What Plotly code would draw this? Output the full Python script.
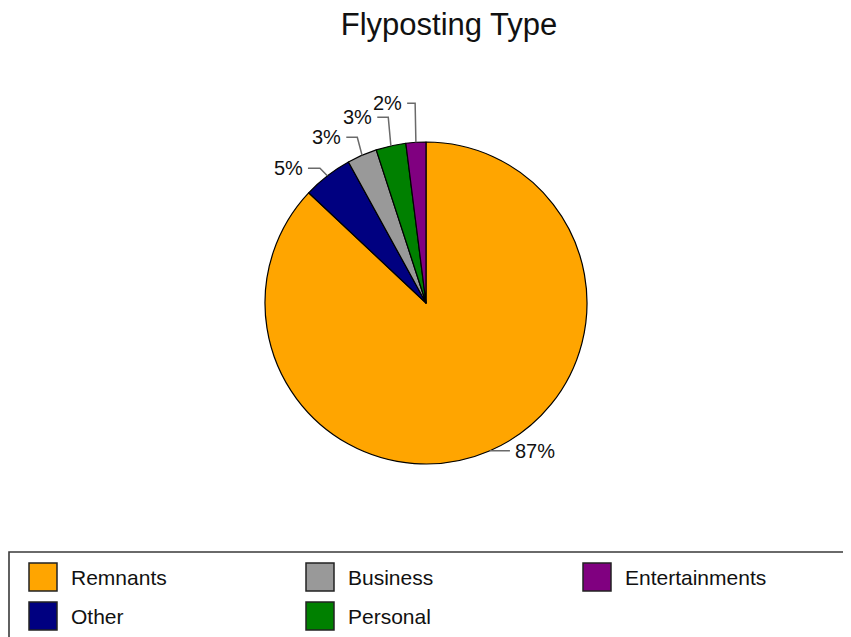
import math
import plotly.graph_objects as go

# ---- data ----
categories = ["Remnants", "Other", "Business", "Personal", "Entertainments"]
values = [87, 5, 3, 3, 2]
colors = ["#FFA500", "#000080", "#999999", "#008000", "#800080"]
title_text = "Flyposting Type"

# ---- layout (pixels, in window coordinates) ----
W, H = 851, 637
OFF = 8  # page body margin offset
CX, CY, R = 426, 303, 161
# leader-line layout per slice: radial extension, vertical lift, horizontal length
leader_ext = [0, 12, 12, 12, 12]
leader_lift = [0, -2, 7, 17, 27]
leader_hlen = [20, 12, 11, 11, 8]
legend_rows = 2
FONT = "Liberation Sans, Arial, sans-serif"


def px(x):
    return (x - OFF) / W


def py(y):
    return 1 - (y - OFF) / H


fig = go.Figure()
fig.add_trace(go.Pie(
    labels=categories, values=values, sort=False, direction="clockwise", rotation=0,
    marker=dict(colors=colors, line=dict(color="#000000", width=1.2)),
    textinfo="none", hoverinfo="label+percent", showlegend=False,
    domain=dict(x=[px(CX - R), px(CX + R)], y=[py(CY + R), py(CY - R)]),
))

shapes = []
annotations = []

# percentage labels with leader lines
total = sum(values)
cum = 0
for i, v in enumerate(values):
    mid = (cum + v / 2) / total * 2 * math.pi
    cum += v
    sx, cy_ = math.sin(mid), math.cos(mid)
    ax, ay = CX + R * sx, CY - R * cy_
    ex = CX + (R + leader_ext[i]) * sx
    ey = CY - (R + leader_ext[i]) * cy_ - leader_lift[i]
    side = -1 if sx < 0 else 1
    hx = ex + side * leader_hlen[i]
    shapes.append(dict(
        type="path", xref="paper", yref="paper",
        path=f"M {px(ax)},{py(ay)} L {px(ex)},{py(ey)} L {px(hx)},{py(ey)}",
        line=dict(color="#6a6a6a", width=1.5),
    ))
    pct = round(v / total * 100)
    annotations.append(dict(
        x=px(hx + side * 3), y=py(ey), xref="paper", yref="paper",
        text=f"{pct}%", showarrow=False,
        xanchor="right" if side < 0 else "left", yanchor="middle",
        font=dict(family=FONT, size=20, color="#111111"),
    ))

# legend box (right and bottom edges lie outside the view)
shapes.append(dict(type="path", xref="paper", yref="paper",
                   path=f"M {px(W + 30)},{py(552)} L {px(9)},{py(552)} L {px(9)},{py(H + 30)}",
                   line=dict(color="#3a3a3a", width=1.6)))
for i, (name, col) in enumerate(zip(categories, colors)):
    c, r = i // legend_rows, i % legend_rows
    x0 = 29 + c * 277
    y0 = 563 + r * 39
    shapes.append(dict(type="rect", xref="paper", yref="paper",
                       x0=px(x0), x1=px(x0 + 28), y0=py(y0), y1=py(y0 + 28),
                       line=dict(color="#222222", width=1.5), fillcolor=col))
    annotations.append(dict(
        x=px(x0 + 40), y=py(y0 + 14), xref="paper", yref="paper",
        text=name, showarrow=False, xanchor="left", yanchor="middle",
        font=dict(family=FONT, size=21, color="#111111"),
    ))

fig.update_layout(
    width=W, height=H,
    margin=dict(l=0, r=0, t=0, b=0),
    paper_bgcolor="white", plot_bgcolor="white",
    title=dict(text=title_text, x=px(449), y=py(24), xref="paper", yref="paper",
               xanchor="center", yanchor="middle",
               font=dict(family=FONT, size=31, color="#111111")),
    shapes=shapes, annotations=annotations,
)

fig.write_html("out.html")
